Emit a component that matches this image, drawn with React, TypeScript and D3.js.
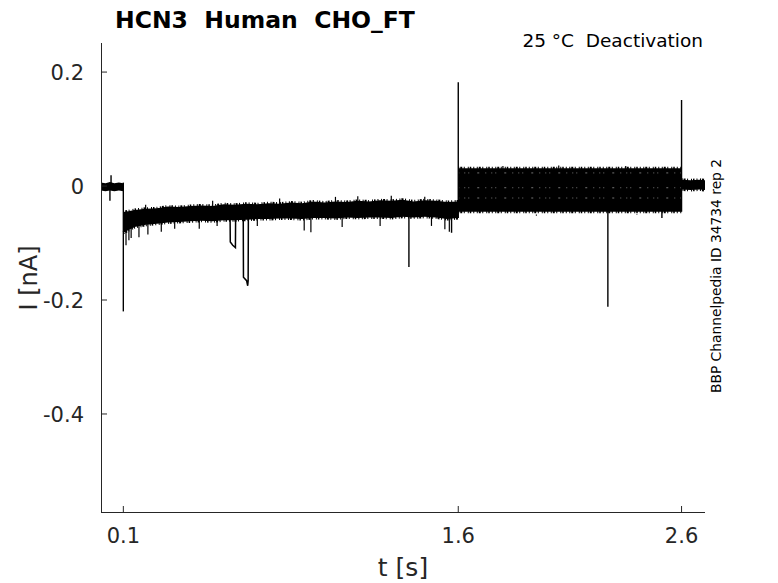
import React from "react";
import * as d3 from "d3";

// ---- data (time in s, current in nA) ----
const xTicks = [0.1, 1.6, 2.6];
const xTickLabels = ["0.1", "1.6", "2.6"];
const yTicks = [-0.4, -0.2, 0, 0.2];
const yTickLabels = ["-0.4", "-0.2", "0", "0.2"];

// holding period before the step
const preTimes = [0, 0.02, 0.04, 0.06, 0.08, 0.1];
const preUpper = [0.006, 0.005, 0.007, 0.005, 0.006, 0.005];
const preLower = [-0.008, -0.009, -0.008, -0.009, -0.008, -0.009];

// hyperpolarising step envelope
const stepTimes = [0.1, 0.15, 0.2, 0.25, 0.3, 0.35, 0.4, 0.45, 0.5, 0.55, 0.6, 0.65, 0.7, 0.75, 0.8, 0.85, 0.9, 0.95, 1.0, 1.05, 1.1, 1.15, 1.2, 1.25, 1.3, 1.35, 1.4, 1.45, 1.5, 1.55, 1.6];
const stepUpper = [-0.046, -0.042, -0.04, -0.039, -0.036, -0.037, -0.035, -0.034, -0.035, -0.032, -0.033, -0.031, -0.032, -0.03, -0.031, -0.029, -0.03, -0.027, -0.029, -0.027, -0.028, -0.026, -0.027, -0.025, -0.026, -0.024, -0.027, -0.025, -0.026, -0.028, -0.027];
const stepLower = [-0.082, -0.072, -0.068, -0.066, -0.064, -0.063, -0.062, -0.061, -0.062, -0.06, -0.06, -0.059, -0.058, -0.058, -0.057, -0.057, -0.058, -0.056, -0.056, -0.057, -0.055, -0.056, -0.055, -0.055, -0.056, -0.054, -0.055, -0.054, -0.055, -0.058, -0.056];

// test pulses (one level per sweep)
const testStart = 1.6;
const testEnd = 2.6;
const testLevels = [0.024, 0.016, 0.008, 0.0, -0.008, -0.016, -0.024, -0.031, -0.038];
const testNoise = 0.007;
const testGapLevels = [0.023, -0.003, -0.021];

// tail after the test pulse
const postTimes = [2.6, 2.64, 2.68, 2.705];
const postUpper = [0.011, 0.01, 0.011, 0.01];
const postLower = [-0.006, -0.007, -0.006, -0.007];

// capacitive transients and artefacts: [time, from, to]
const transients: [number, number, number][] = [
  [0.1, 0.006, -0.22],
  [1.6, -0.056, 0.182],
  [2.6, -0.045, 0.151],
  [2.27, -0.04, -0.212],
  [1.379, -0.05, -0.142],
  [0.045, 0.0, 0.019],
  [0.04, -0.005, -0.026],
  [1.57, -0.05, -0.082],
  [2.512, -0.04, -0.056],
];

// small noise spikes [time, value]
const spikesBelow: [number, number][] = [
  [0.112, -0.104], [0.125, -0.095], [0.135, -0.091], [0.17, -0.09], [0.21, -0.085], [0.27, -0.08],
  [0.33, -0.075], [0.44, -0.075], [0.52, -0.07], [0.7, -0.07], [0.91, -0.078], [0.94, -0.081],
  [1.08, -0.072], [1.25, -0.07], [1.48, -0.07], [1.54, -0.076], [1.56, -0.08],
  [1.75, -0.05], [1.95, -0.052], [2.1, -0.05], [2.4, -0.051],
];
const spikesAbove: [number, number][] = [
  [0.2, -0.033], [0.5, -0.026], [0.8, -0.022], [1.05, -0.019], [1.15, -0.018], [1.3, -0.017], [1.45, -0.019],
  [1.8, 0.035], [2.05, 0.036], [2.35, 0.035],
];

// sweeps that dip briefly: polylines [time, value]
const dipA: [number, number][] = [[0.578, -0.05], [0.579, -0.098], [0.59, -0.104], [0.602, -0.108], [0.603, -0.05]];
const dipB: [number, number][] = [[0.637, -0.05], [0.638, -0.16], [0.652, -0.166], [0.657, -0.175], [0.659, -0.166], [0.66, -0.05]];

const W = 778;
const H = 583;
const axisColor = "#262626";
const font = "'DejaVu Sans', sans-serif";

export default function App() {
  const x = d3.scaleLinear().domain([0, 2.705]).range([101, 705]);
  const y = d3.scaleLinear().domain([-0.572, 0.251]).range([512, 43]);

  const band = (ts: number[], hi: number[], lo: number[]) =>
    d3
      .area<number>()
      .x((_, i) => x(ts[i]))
      .y0((_, i) => y(lo[i]))
      .y1((_, i) => y(hi[i]))(ts) || "";

  const edge = (ts: number[], vs: number[]) =>
    d3
      .line<number>()
      .x((_, i) => x(ts[i]))
      .y((_, i) => y(vs[i]))(ts) || "";

  const poly = d3
    .line<[number, number]>()
    .x((d) => x(d[0]))
    .y((d) => y(d[1]));

  const testTs = [testStart, testEnd];

  return (
    <svg width={W} height={H} style={{ position: "absolute", left: 0, top: 0, background: "#fff" }}>
      <rect width={W} height={H} fill="#fff" />
      {/* traces */}
      <g fill="#000" stroke="none">
        <path d={band(preTimes, preUpper, preLower)} />
        <path d={band(stepTimes, stepUpper, stepLower)} />
        {testLevels.map((lv, i) => (
          <path key={i} d={band(testTs, [lv + testNoise, lv + testNoise], [lv - testNoise, lv - testNoise])} />
        ))}
        <path d={band(postTimes, postUpper, postLower)} />
      </g>
      {/* fuzzy edges */}
      <g fill="none" stroke="#000" strokeWidth={3} strokeDasharray="1 1 2 1.5 1 3 1 1 1.5 2 1 2.5">
        <path d={edge(stepTimes, stepUpper)} />
        <path d={edge(stepTimes, stepLower)} />
        <path d={edge(testTs, [testLevels[0] + testNoise, testLevels[0] + testNoise])} />
        <path d={edge(testTs, [testLevels[testLevels.length - 1] - testNoise, testLevels[testLevels.length - 1] - testNoise])} />
        <path d={edge(postTimes, postUpper)} />
        <path d={edge(postTimes, postLower)} />
      </g>
      <g fill="none" stroke="#fff" strokeWidth={1} strokeDasharray="1 5 1 3 1 8 2 6" opacity={0.45}>
        {testGapLevels.map((lv, i) => (
          <path key={i} d={edge(testTs, [lv, lv])} />
        ))}
      </g>
      <g stroke="#000" strokeWidth={1.4}>
        {transients.map(([t, a, b], i) => (
          <line key={i} x1={x(t)} x2={x(t)} y1={y(a)} y2={y(b)} />
        ))}
        {spikesBelow.map(([t, v], i) => (
          <line key={"b" + i} x1={x(t)} x2={x(t)} y1={y(-0.05)} y2={y(v)} strokeWidth={1.2} />
        ))}
        {spikesAbove.map(([t, v], i) => (
          <line key={"a" + i} x1={x(t)} x2={x(t)} y1={y(v - 0.01)} y2={y(v)} strokeWidth={1.2} />
        ))}
      </g>
      <g fill="none" stroke="#000" strokeWidth={1.5}>
        <path d={poly(dipA) || ""} />
        <path d={poly(dipB) || ""} />
      </g>

      {/* axes */}
      <g stroke={axisColor} strokeWidth={1} fill="none">
        <line x1={101.5} x2={101.5} y1={43} y2={512.5} />
        <line x1={101} x2={705} y1={512.5} y2={512.5} />
        {xTicks.map((t, i) => (
          <line key={i} x1={x(t)} x2={x(t)} y1={512} y2={506} />
        ))}
        {yTicks.map((v, i) => (
          <line key={i} x1={101} x2={107} y1={y(v)} y2={y(v)} />
        ))}
      </g>
      <g fill={axisColor} fontFamily={font} fontSize={21}>
        {xTicks.map((t, i) => (
          <text key={i} x={x(t)} y={543} textAnchor="middle">
            {xTickLabels[i]}
          </text>
        ))}
        {yTicks.map((v, i) => (
          <text key={i} x={84} y={y(v)} dy="0.36em" textAnchor="end">
            {yTickLabels[i]}
          </text>
        ))}
      </g>
      <text x={403} y={576} textAnchor="middle" fontFamily={font} fontSize={25} fill={axisColor}>
        t [s]
      </text>
      <text
        transform={`translate(37,278) rotate(-90)`}
        textAnchor="middle"
        fontFamily={font}
        fontSize={24}
        fill={axisColor}
      >
        I [nA]
      </text>
      <text x={115} y={28} fontFamily={font} fontWeight="bold" fontSize={23.5} fill="#000" style={{ whiteSpace: "pre" }}>
        {"HCN3  Human  CHO_FT"}
      </text>
      <text x={703} y={47} textAnchor="end" fontFamily={font} fontSize={18.5} fill="#000" style={{ whiteSpace: "pre" }}>
        {"25 °C  Deactivation"}
      </text>
      <text
        transform={`translate(721,276) rotate(-90)`}
        textAnchor="middle"
        fontFamily={font}
        fontSize={13.8}
        fill="#000"
      >
        BBP Channelpedia ID 34734 rep 2
      </text>
    </svg>
  );
}
